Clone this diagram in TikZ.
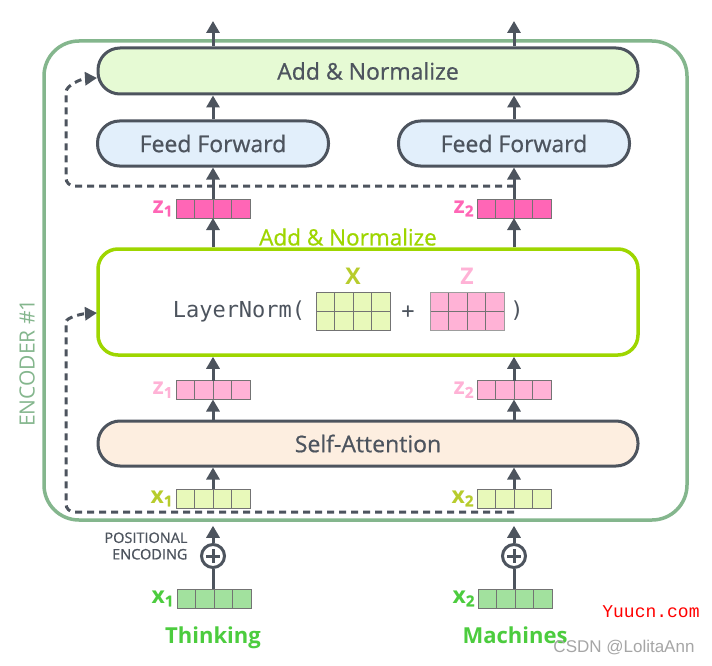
\documentclass[tikz,border=0pt]{standalone}
\usepackage{fontspec}
\setmainfont{Open Sans}
\newfontfamily\semib{Open Sans}[FakeBold=0.7]
\newfontfamily\monofont{DejaVu Sans Mono}
\newfontfamily\wmfont{Liberation Mono}
\newfontfamily\csdnfont{Liberation Sans}
\usetikzlibrary{arrows.meta,calc}
\definecolor{dgray}{RGB}{77,84,94}
\definecolor{encg}{RGB}{132,182,141}
\definecolor{addfill}{RGB}{230,250,212}
\definecolor{fffill}{RGB}{226,239,251}
\definecolor{safill}{RGB}{253,238,224}
\definecolor{limeg}{RGB}{158,214,0}
\definecolor{zdark}{RGB}{255,102,182}
\definecolor{zlight}{RGB}{255,178,214}
\definecolor{xfill}{RGB}{232,249,186}
\definecolor{xlab}{RGB}{183,204,44}
\definecolor{ifill}{RGB}{162,225,158}
\definecolor{ilab}{RGB}{76,204,62}
\definecolor{cellg}{RGB}{115,115,115}
\tikzset{
  blk/.style={draw=dgray, line width=3pt, rounded corners=22pt, minimum height=46pt,
    inner sep=0pt, font=\semib\fontsize{23pt}{27pt}\selectfont, text=dgray},
  arr/.style={draw=dgray, line width=3pt, -{Triangle[width=13pt,length=12pt]}},
  dsh/.style={draw=dgray, line width=3pt, dash pattern=on 7pt off 5pt,
    -{Triangle[width=13pt,length=12pt]}, rounded corners=8pt},
  vecbox/.style={draw=cellg, line width=0.9pt, minimum width=74pt, minimum height=19pt,
    inner sep=0pt, outer sep=0pt,
    path picture={\foreach \i in {1,2,3}{\draw[cellg,line width=0.9pt]
      ($(path picture bounding box.south west)!\i/4!(path picture bounding box.south east)$) --
      ($(path picture bounding box.north west)!\i/4!(path picture bounding box.north east)$);}}},
  matbox/.style={draw=cellg, line width=0.9pt, minimum width=74pt, minimum height=38pt,
    inner sep=0pt, outer sep=0pt,
    path picture={\foreach \i in {1,2,3}{\draw[cellg,line width=0.9pt]
      ($(path picture bounding box.south west)!\i/4!(path picture bounding box.south east)$) --
      ($(path picture bounding box.north west)!\i/4!(path picture bounding box.north east)$);}
      \draw[cellg,line width=0.9pt] (path picture bounding box.west) -- (path picture bounding box.east);}},
  vlab/.style={font=\fontsize{23pt}{25pt}\selectfont\bfseries},
  wordlab/.style={font=\fontsize{22pt}{26pt}\selectfont\bfseries, text=ilab, anchor=base},
  pplus/.style={circle, draw=dgray, line width=3pt, minimum size=23pt, inner sep=0pt},
}
\newcommand\sub[1]{\raisebox{-3pt}{\semib\fontsize{15pt}{15pt}\selectfont #1}}
\begin{document}
\begin{tikzpicture}[x=1pt,y=-1pt]
\useasboundingbox (0,0) rectangle (712,666);
\fill[white] (0,0) rectangle (712,666);
% encoder container
\node[draw=encg, line width=3.5pt, rounded corners=35pt, minimum width=643pt, minimum height=479pt, inner sep=0pt] (enc) at (365.5,280.5) {};
\node[rotate=90, text=encg, font=\fontsize{21pt}{25pt}\selectfont] (enclab) at (27,363) {ENCODER \#1};
% blocks
\node[blk, fill=addfill, minimum width=540pt] (addtop) at (368,71) {Add \& Normalize};
\node[blk, fill=fffill, minimum width=231pt, minimum height=45pt] (ff1) at (213,143.5) {Feed Forward};
\node[blk, fill=fffill, minimum width=231pt, minimum height=45pt] (ff2) at (514,143.5) {Feed Forward};
\node[draw=limeg, line width=3.5pt, rounded corners=20pt, minimum width=540pt, minimum height=106pt, inner sep=0pt] (ln) at (368,302) {};
\node[text=limeg, font=\semib\fontsize{22.5pt}{25pt}\selectfont] (lnlab) at (348,237) {Add \& Normalize};
\node[blk, fill=safill, minimum width=540pt, minimum height=45pt] (sa) at (368,443.5) {Self-Attention};
% layernorm contents
\node[text=dgray, font=\monofont\fontsize{22pt}{24pt}\selectfont] (lnt) at (239,311) {LayerNorm(};
\node[matbox, fill=xfill] (mx) at (353,311) {};
\node[matbox, fill=zlight, draw=cellg!70] (mz) at (467,311) {};
\node[text=dgray, font=\monofont\fontsize{22pt}{24pt}\selectfont] (plus) at (408,312) {+};
\node[text=dgray, font=\monofont\fontsize{22pt}{24pt}\selectfont] (rp) at (517,311) {)};
\node[vlab, text=xlab] (mxl) at (353,276) {X};
\node[vlab, text=zlight] (mzl) at (467,276) {Z};
% vectors
\node[vecbox, fill=zdark] (zd1) at (213,208.5) {};
\node[vecbox, fill=zdark] (zd2) at (514,208.5) {};
\node[vecbox, fill=zlight] (zl1) at (213,390) {};
\node[vecbox, fill=zlight] (zl2) at (514,390) {};
\node[vecbox, fill=xfill] (xv1) at (213,498.5) {};
\node[vecbox, fill=xfill] (xv2) at (514,498.5) {};
\node[vecbox, fill=ifill] (xi1) at (214,598.5) {};
\node[vecbox, fill=ifill] (xi2) at (515,598.5) {};
% vector labels
\node[vlab, text=zdark, anchor=east] at (zd1.west) {z\sub{1}};
\node[vlab, text=zdark, anchor=east] at (zd2.west) {z\sub{2}};
\node[vlab, text=zlight, anchor=east] at (zl1.west) {z\sub{1}};
\node[vlab, text=zlight, anchor=east] at (zl2.west) {z\sub{2}};
\node[vlab, text=xlab, anchor=east] at (xv1.west) {x\sub{1}};
\node[vlab, text=xlab, anchor=east] at (xv2.west) {x\sub{2}};
\node[vlab, text=ilab, anchor=east] at (xi1.west) {x\sub{1}};
\node[vlab, text=ilab, anchor=east] at (xi2.west) {x\sub{2}};
% positional encoding
\node[pplus] (pe1) at (213,556) {};
\node[pplus] (pe2) at (514,556) {};
\foreach \p in {pe1,pe2}{
  \draw[dgray, line width=3pt] (\p.center) ++(-7,0) -- ++(14,0);
  \draw[dgray, line width=3pt] (\p.center) ++(0,-7) -- ++(0,14);
}
\node[align=right, anchor=east, text=dgray, font=\semib\fontsize{14.5pt}{16.5pt}\selectfont] (pelab) at (191,546) {POSITIONAL\\ENCODING};
\node[wordlab] (w1) at (213,643) {Thinking};
\node[wordlab] (w2) at (515,643) {Machines};
% output coordinates
\coordinate (o1) at (213,21);
\coordinate (o2) at (514,21);
% arrows
\foreach \c/\ff/\zd/\zl/\xv/\xi/\pe/\o in {1/ff1/zd1/zl1/xv1/xi1/pe1/o1, 2/ff2/zd2/zl2/xv2/xi2/pe2/o2}{
  \draw[arr] (addtop.north -| \o) -- (\o);
  \draw[arr] (\ff.north) -- (\ff.north |- addtop.south);
  \draw[arr] (\zd.south |- ln.north) -- (\zd.south);
  \draw[arr] (\zl.north) -- (\zl.north |- ln.south);
  \draw[arr] (\zl.south |- sa.north) -- (\zl.south);
  \draw[arr] (\xv.north) -- (\xv.north |- sa.south);
  \draw[arr, shorten >=4pt] (\pe.north) -- (\pe.north |- enc.south);
  \draw[dgray, line width=3pt] (\xi.north -| \pe) -- (\pe.south);
}
% residual dashed connections
\coordinate (d1s) at (514,186);
\coordinate (d1c) at (66,186);
\coordinate (d1t) at (97,78);
\coordinate (d2s) at (514,512);
\coordinate (d2c) at (66,512);
\coordinate (d2t) at (97,313);
\draw[dsh] (d1s) -- (d1c) -- (66,100) .. controls (66,86) and (80,79) .. (d1t);
\draw[dsh] (d2s) -- (d2c) -- (66,330) .. controls (66,318) and (80,314) .. (d2t);
% arrows crossing the dashed line, on top
\draw[arr] (zd1.north) -- (zd1.north |- ff1.south);
\draw[arr] (zd2.north) -- (zd2.north |- ff2.south);
% watermarks
\node[text=red, font=\wmfont\fontsize{18pt}{20pt}\selectfont] (wm1) at (651,612) {Yuucn.com};
\node[text=black!35, font=\csdnfont\fontsize{17pt}{20pt}\selectfont] (wm2) at (624,648) {CSDN @LolitaAnn};
\end{tikzpicture}
\end{document}
